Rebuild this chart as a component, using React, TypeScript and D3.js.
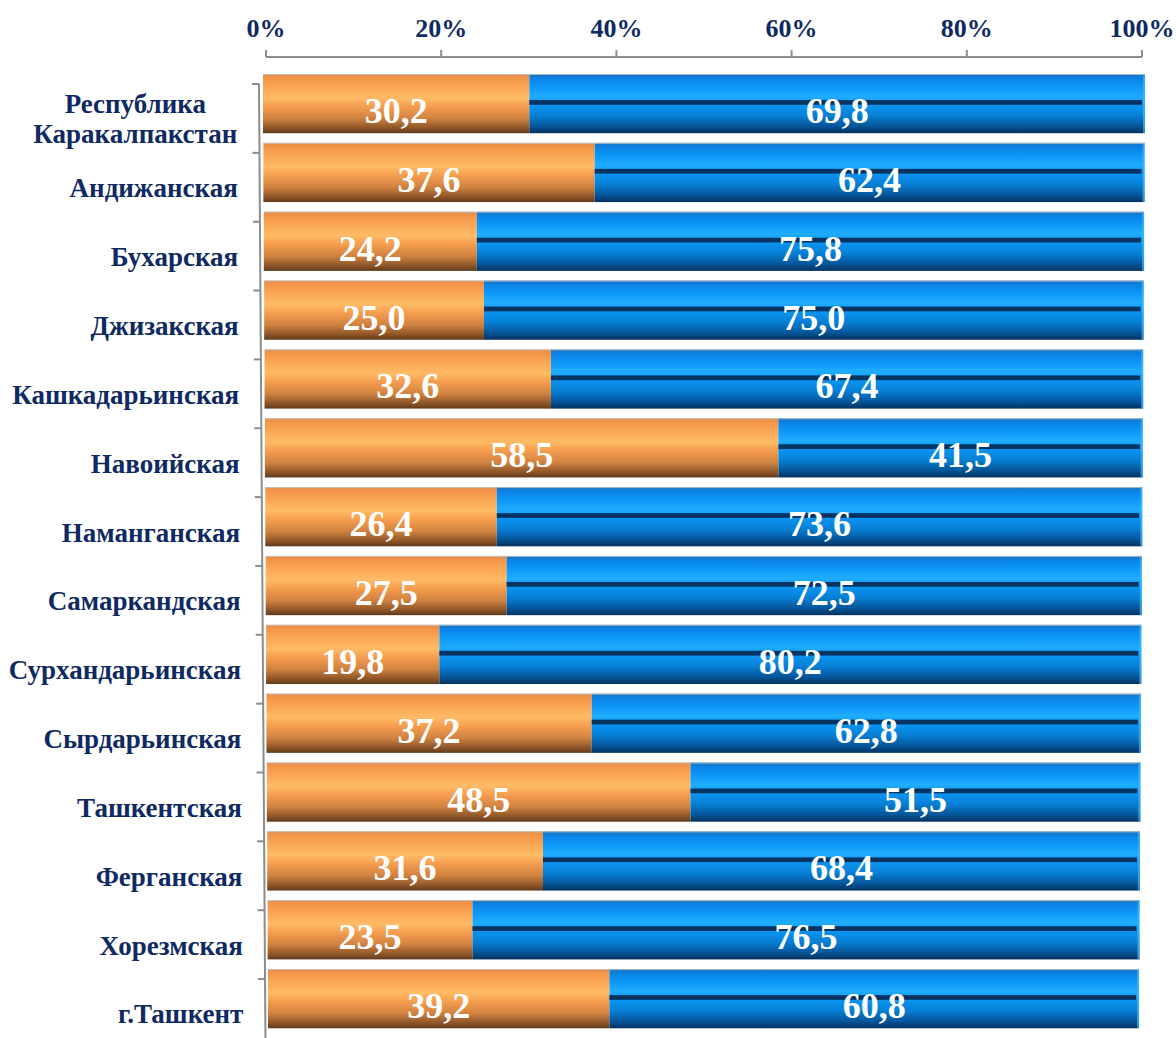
import React from 'react';
import * as d3 from 'd3';

// категории (регионы) и доли двух серий, %
const categories: string[][] = [
  ['Республика', 'Каракалпакстан'],
  ['Андижанская'],
  ['Бухарская'],
  ['Джизакская'],
  ['Кашкадарьинская'],
  ['Навоийская'],
  ['Наманганская'],
  ['Самаркандская'],
  ['Сурхандарьинская'],
  ['Сырдарьинская'],
  ['Ташкентская'],
  ['Ферганская'],
  ['Хорезмская'],
  ['г.Ташкент'],
];
const seriesA: number[] = [30.2, 37.6, 24.2, 25.0, 32.6, 58.5, 26.4, 27.5, 19.8, 37.2, 48.5, 31.6, 23.5, 39.2];
const seriesB: number[] = [69.8, 62.4, 75.8, 75.0, 67.4, 41.5, 73.6, 72.5, 80.2, 62.8, 51.5, 68.4, 76.5, 60.8];
const xTicks: number[] = [0, 20, 40, 60, 80, 100];

const W = 1176;
const H = 1038;
const FONT = "'Liberation Serif', 'Times New Roman', serif";
const NAVY = '#0f2a62';

const fmt = (v: number) => v.toFixed(1).replace('.', ',');

export default function App() {
  const n = categories.length;
  const keys = categories.map((_, i) => String(i));

  // полосы категорий (по засечкам левой оси)
  const y = d3.scaleBand().domain(keys).range([84, 84 + n * 68.85]);
  const bw = y.bandwidth();
  const barH = bw * 0.86;
  const barOffset = -10;

  // перспектива: края полос немного смещаются от строки к строке
  const leftEdge = d3.scaleLinear().domain([0, n - 1]).range([263, 268]);
  const rightEdge = d3.scaleLinear().domain([0, n - 1]).range([1145, 1139]);
  const xRow = (i: number) => d3.scaleLinear().domain([0, 100]).range([leftEdge(i), rightEdge(i)]);

  // верхняя ось (задняя плоскость)
  const xTop = d3.scaleLinear().domain([0, 100]).range([266, 1142]);
  const axisTopY = 57;

  // левая ось — слегка наклонная
  const axisX = d3.scaleLinear().domain([84, 84 + n * 68.85]).range([259, 265.5]);
  const yEnd = 84 + n * 68.85;

  return (
    <svg width={W} height={H} style={{ position: 'absolute', left: 0, top: 0, background: '#fff' }}>
      <defs>
        <linearGradient id="gOrange" x1="0" y1="0" x2="0" y2="1">
          <stop offset="0" stopColor="#dd8a4a" />
          <stop offset="0.06" stopColor="#f39448" />
          <stop offset="0.2" stopColor="#f9a453" />
          <stop offset="0.4" stopColor="#ffbb66" />
          <stop offset="0.55" stopColor="#f59d4f" />
          <stop offset="0.75" stopColor="#cf8240" />
          <stop offset="0.92" stopColor="#8a5327" />
          <stop offset="1" stopColor="#603a1a" />
        </linearGradient>
        <linearGradient id="gBlue" x1="0" y1="0" x2="0" y2="1">
          <stop offset="0" stopColor="#1a72c0" />
          <stop offset="0.08" stopColor="#0a84e6" />
          <stop offset="0.22" stopColor="#0d98f8" />
          <stop offset="0.38" stopColor="#20adff" />
          <stop offset="0.5" stopColor="#0b97f5" />
          <stop offset="0.7" stopColor="#0780d6" />
          <stop offset="0.88" stopColor="#05569a" />
          <stop offset="1" stopColor="#03325f" />
        </linearGradient>
      </defs>

      {/* верхняя ось */}
      <line x1={xTop(0)} x2={xTop(100)} y1={axisTopY} y2={axisTopY} stroke="#8c8c8c" strokeWidth={2} />
      {xTicks.map((t) => (
        <g key={t}>
          <line x1={xTop(t)} x2={xTop(t)} y1={axisTopY} y2={axisTopY - 7} stroke="#8c8c8c" strokeWidth={2} />
          <text x={xTop(t)} y={37} textAnchor="middle" fontFamily={FONT} fontWeight="bold" fontSize={26} fill={NAVY}>
            {t}%
          </text>
        </g>
      ))}

      {/* левая ось */}
      <line x1={axisX(84)} x2={axisX(yEnd)} y1={84} y2={yEnd} stroke="#8c8c8c" strokeWidth={2} />
      {d3.range(n).map((i) => {
        const ty = y(keys[i])!;
        return (
          <line key={i} x1={axisX(ty) - 7} x2={axisX(ty)} y1={ty} y2={ty} stroke="#8c8c8c" strokeWidth={2} />
        );
      })}

      {/* подписи категорий */}
      {categories.map((lines, i) => {
        const cy = y(keys[i])! + bw / 2 + 10;
        const x = axisX(cy) - 22;
        if (lines.length === 1) {
          return (
            <text key={i} x={x} y={cy} textAnchor="end" fontFamily={FONT} fontWeight="bold" fontSize={27} fill={NAVY}>
              {lines[0]}
            </text>
          );
        }
        // двухстрочная подпись: строки центрированы между собой
        return (
          <text key={i} x={x - 102} y={cy} textAnchor="middle" fontFamily={FONT} fontWeight="bold" fontSize={27} fill={NAVY}>
            {lines.map((l, k) => (
              <tspan key={k} x={x - 102} y={cy - 15 + k * 30}>
                {l}
              </tspan>
            ))}
          </text>
        );
      })}

      {/* полосы */}
      {d3.range(n).map((i) => {
        const x = xRow(i);
        const top = y(keys[i])! + barOffset;
        const a = seriesA[i];
        const b = seriesB[i];
        const x0 = x(0);
        const x1 = x(a);
        const x2 = x(a + b);
        return (
          <g key={i}>
            <rect x={x0} y={top} width={x1 - x0} height={barH} fill="url(#gOrange)" />
            <rect x={x1} y={top} width={x2 - x1} height={barH} fill="url(#gBlue)" />
            <rect x={x1} y={top + barH * 0.44} width={x2 - x1 - 3} height={barH * 0.08} fill="#033462" />
            <line x1={x0} x2={x2} y1={top + 0.5} y2={top + 0.5} stroke="#c9c9c9" strokeWidth={1} opacity={0.8} />
            <line x1={x2 - 1} x2={x2 - 1} y1={top} y2={top + barH} stroke="#3db8ff" strokeWidth={2} opacity={0.7} />
            <text
              x={(x0 + x1) / 2}
              y={top + 49}
              textAnchor="middle"
              fontFamily={FONT}
              fontWeight="bold"
              fontSize={36}
              fill="#fff"
            >
              {fmt(a)}
            </text>
            <text
              x={(x1 + x2) / 2}
              y={top + 49}
              textAnchor="middle"
              fontFamily={FONT}
              fontWeight="bold"
              fontSize={36}
              fill="#fff"
            >
              {fmt(b)}
            </text>
          </g>
        );
      })}
    </svg>
  );
}
